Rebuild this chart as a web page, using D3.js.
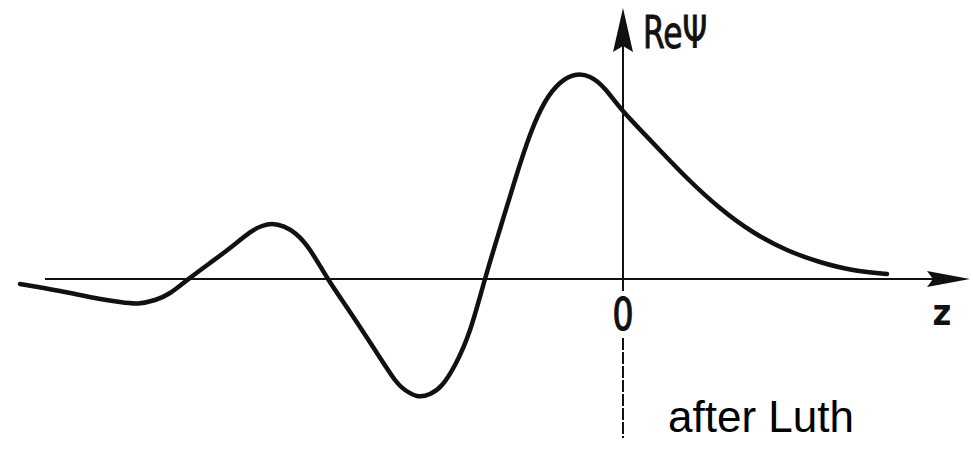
<!DOCTYPE html>
<html>
<head>
<meta charset="utf-8">
<script src="https://cdn.jsdelivr.net/npm/d3@7"></script>
<style>
  html, body { margin: 0; padding: 0; background: #fff; }
  svg { display: block; }
</style>
</head>
<body>
<script>
// Real part of the wave function along z (z = 0 at the vertical axis)
const zValues = [-6.03, -5.63, -5.28, -5.03, -4.85, -4.68, -4.53, -4.35, -4.13, -3.93,
                 -3.73, -3.61, -3.51, -3.39, -3.27, -3.13, -2.95, -2.73, -2.48, -2.28,
                 -2.18, -2.06, -1.93, -1.81, -1.68, -1.53, -1.38, -1.23, -1.08, -0.93,
                 -0.78, -0.63, -0.48, -0.33, -0.18, 0.00, 0.30, 0.64, 0.97, 1.30,
                 1.64, 1.97, 2.30, 2.64];
const rePsi   = [-0.025, -0.06, -0.095, -0.115, -0.122, -0.105, -0.07, -0.002, 0.08, 0.155,
                 0.233, 0.265, 0.275, 0.262, 0.225, 0.145, 0.00, -0.165, -0.355, -0.505,
                 -0.555, -0.585, -0.575, -0.53, -0.43, -0.255, 0.00, 0.25, 0.495, 0.72,
                 0.885, 0.98, 1.02, 1.01, 0.95, 0.84, 0.68, 0.505, 0.355, 0.235,
                 0.145, 0.085, 0.045, 0.025];

// Axis labels
const xAxisLabel = "z";
const yAxisLabel = "Re\u03A8";
const originLabel = "0";
const creditText = "after Luth";

const W = 973, H = 451;

const x = d3.scaleLinear().domain([-6.03, 3.47]).range([20, 970]);
const y = d3.scaleLinear().domain([0, 1]).range([279, 79]);

const svg = d3.select("body").append("svg")
  .attr("width", W).attr("height", H)
  .attr("viewBox", `0 0 ${W} ${H}`);

const ink = "#111";

// Horizontal z axis with arrow head
const x0 = x(0), y0 = y(0);
svg.append("line")
  .attr("x1", x(-5.78)).attr("x2", x(3.1))
  .attr("y1", y0).attr("y2", y0)
  .attr("stroke", ink).attr("stroke-width", 2.2);
svg.append("path")
  .attr("d", `M${x(3.47)},${y0} L${x(3.04)},${y0 - 8} L${x(3.10)},${y0} L${x(3.04)},${y0 + 8} Z`)
  .attr("fill", ink);

// Vertical axis with arrow head, and its continuation below the origin label
svg.append("line")
  .attr("x1", x0).attr("x2", x0)
  .attr("y1", 40).attr("y2", y0 + 12)
  .attr("stroke", ink).attr("stroke-width", 2);
svg.append("path")
  .attr("d", `M${x0},8 L${x0 + 10},52 L${x0},46 L${x0 - 10},52 Z`)
  .attr("fill", ink);
svg.append("line")
  .attr("x1", x0).attr("x2", x0)
  .attr("y1", 338).attr("y2", 438)
  .attr("stroke", ink).attr("stroke-width", 2)
  .attr("stroke-dasharray", "12 2");

// The wave function curve, as a smooth natural spline through the samples
const line = d3.line()
  .x((d, i) => x(zValues[i]))
  .y(d => y(d))
  .curve(d3.curveNatural);

svg.append("path")
  .datum(rePsi)
  .attr("d", line)
  .attr("fill", "none")
  .attr("stroke", ink)
  .attr("stroke-width", 4.5)
  .attr("stroke-linejoin", "round")
  .attr("stroke-linecap", "round");

// Labels
const labelFont = "'DejaVu Sans Condensed', 'DejaVu Sans', sans-serif";
svg.append("text")
  .attr("x", x0 + 20).attr("y", 48)
  .attr("font-family", labelFont).attr("font-size", 44)
  .attr("textLength", 64).attr("lengthAdjust", "spacingAndGlyphs")
  .attr("fill", ink).attr("stroke", ink).attr("stroke-width", 0.9)
  .text(yAxisLabel);

svg.append("text")
  .attr("x", x0).attr("y", 330)
  .attr("text-anchor", "middle")
  .attr("font-family", labelFont).attr("font-size", 44)
  .attr("textLength", 21).attr("lengthAdjust", "spacingAndGlyphs")
  .attr("fill", ink).attr("stroke", ink).attr("stroke-width", 1.2)
  .text(originLabel);

svg.append("text")
  .attr("x", 942).attr("y", 325)
  .attr("text-anchor", "middle")
  .attr("font-family", labelFont).attr("font-size", 36).attr("font-weight", "bold")
  .attr("fill", ink)
  .text(xAxisLabel);

svg.append("text")
  .attr("x", 668).attr("y", 432)
  .attr("font-family", "'Liberation Sans', Arial, sans-serif").attr("font-size", 44)
  .attr("fill", "#000")
  .text(creditText);
</script>
</body>
</html>
